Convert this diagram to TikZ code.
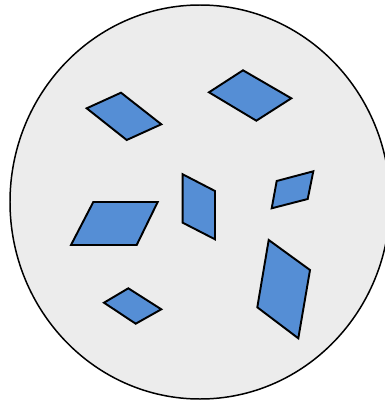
\documentclass[tikz,border=0pt]{standalone}
\definecolor{dishgray}{RGB}{236,236,236}
\definecolor{flakeblue}{RGB}{85,142,213}
\tikzset{flake/.style={draw=black, fill=flakeblue, line width=1.1pt, line join=miter}}
\begin{document}
\begin{tikzpicture}[x=0.02cm, y=-0.02cm]
  \useasboundingbox (0,0) rectangle (385,402);
  \begin{scope}
    \clip (0,0) rectangle (385,402);
    \draw[fill=dishgray, line width=0.85pt] (200,202) ellipse [x radius=190, y radius=197];
  \end{scope}
  % flakes
  \draw[flake] (86.7,108.3) -- (121,92.7) -- (161.3,124.3) -- (126.7,140) -- cycle;
  \draw[flake] (209,92.3) -- (243,70.3) -- (291.3,98.3) -- (256.3,120.7) -- cycle;
  \draw[flake] (182.7,174.3) -- (215,191) -- (215,239.3) -- (182.7,222.7) -- cycle;
  \draw[flake] (276.7,181) -- (313.3,171.3) -- (307.7,199) -- (271.7,208.3) -- cycle;
  \draw[flake] (93.3,202) -- (157.7,202) -- (136.7,245) -- (71,245) -- cycle;
  \draw[flake] (268.7,240) -- (310,270) -- (298.3,338.3) -- (257.3,307.3) -- cycle;
  \draw[flake] (104,302.7) -- (128.3,288.3) -- (161.3,309.3) -- (135.7,323.7) -- cycle;
\end{tikzpicture}
\end{document}
